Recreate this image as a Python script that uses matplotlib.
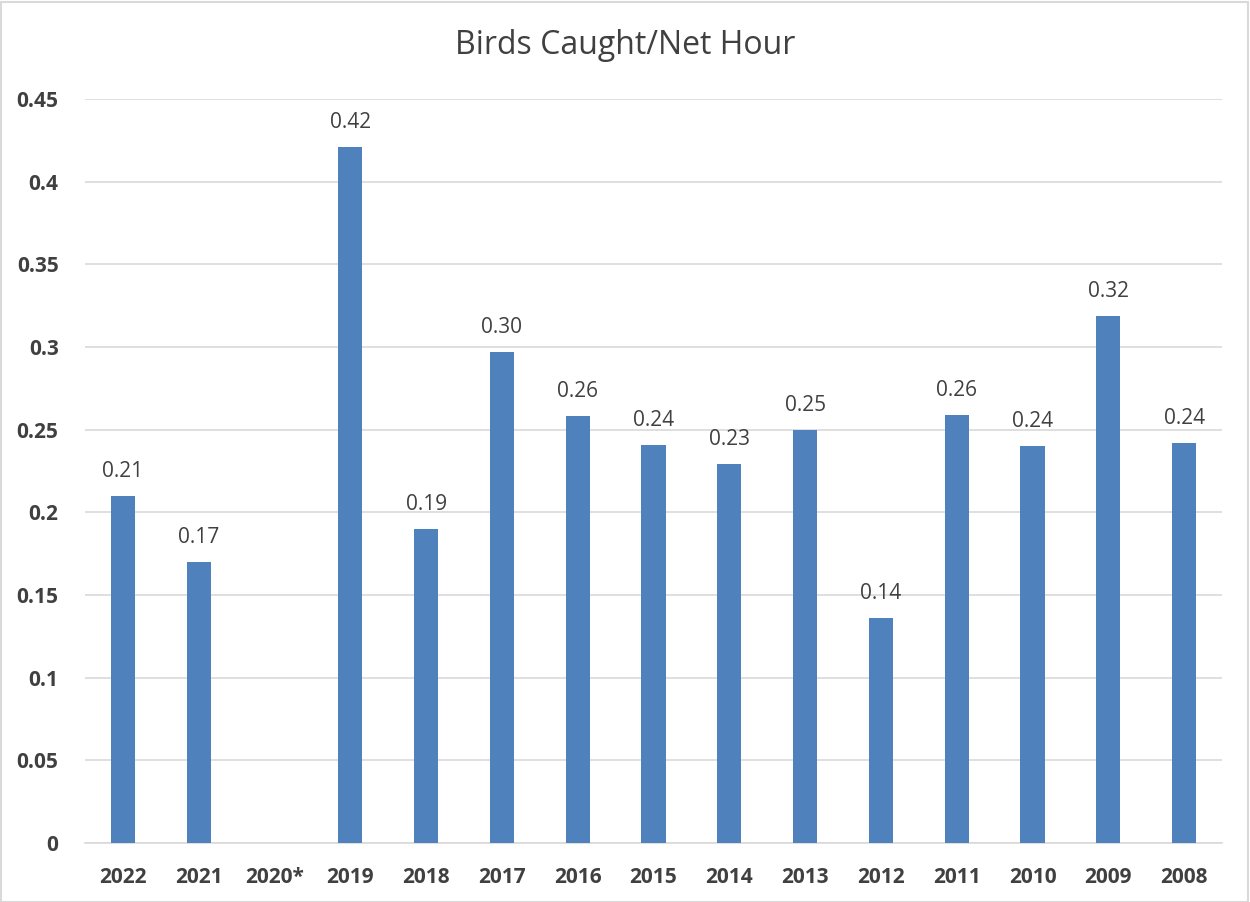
import matplotlib.pyplot as plt
import numpy as np

years = ['2022', '2021', '2020*', '2019', '2018', '2017', '2016', '2015',
         '2014', '2013', '2012', '2011', '2010', '2009', '2008']
birds_per_hour = [0.21, 0.17, np.nan, 0.421, 0.19, 0.297, 0.258, 0.241,
                  0.229, 0.25, 0.136, 0.259, 0.24, 0.319, 0.242]
yticks = [0, 0.05, 0.1, 0.15, 0.2, 0.25, 0.3, 0.35, 0.4, 0.45]
ytick_labels = ['0', '0.05', '0.1', '0.15', '0.2', '0.25', '0.3', '0.35', '0.4', '0.45']

plt.rcParams['font.family'] = ['Open Sans', 'DejaVu Sans']

fig = plt.figure(figsize=(12.5, 9.02), dpi=100)
ax = fig.add_axes([0.068, 0.0654, 0.9096, 0.8248])

x = np.arange(len(years))
vals = np.array(birds_per_hour)
ax.bar(x, np.nan_to_num(vals), width=0.32, color='#4F81BD', zorder=3)

for xi, v in zip(x, vals):
    if not np.isnan(v):
        ax.text(xi, v + 0.0085, f'{v:.2f}', ha='center', va='bottom',
                fontsize=15, color='#404040')

ax.set_ylim(0, 0.45)
ax.set_xlim(-0.5, len(years) - 0.5)
ax.set_yticks(yticks)
ax.set_yticklabels(ytick_labels)
ax.set_xticks(x)
ax.set_xticklabels(years)
for lbl in ax.get_xticklabels() + ax.get_yticklabels():
    lbl.set_fontweight('bold')
    lbl.set_fontsize(15)
    lbl.set_color('#404040')

ax.tick_params(axis='both', length=0)
ax.tick_params(axis='y', pad=19)
ax.tick_params(axis='x', pad=17)
ax.grid(axis='y', color='#D9D9D9', linewidth=1.2, zorder=0)
for s in ['top', 'right', 'left']:
    ax.spines[s].set_visible(False)
ax.spines['bottom'].set_color('#D9D9D9')
ax.spines['bottom'].set_linewidth(1.2)

fig.text(0.5, 0.95, 'Birds Caught/Net Hour', ha='center', va='center',
         fontsize=23, color='#404040')

# light border around the chart area
border = plt.Rectangle((0.001, 0.0), 0.997, 0.998, transform=fig.transFigure,
                       fill=False, edgecolor='#D9D9D9', linewidth=1.5)
fig.patches.append(border)

fig.savefig('out.png', dpi=100)
